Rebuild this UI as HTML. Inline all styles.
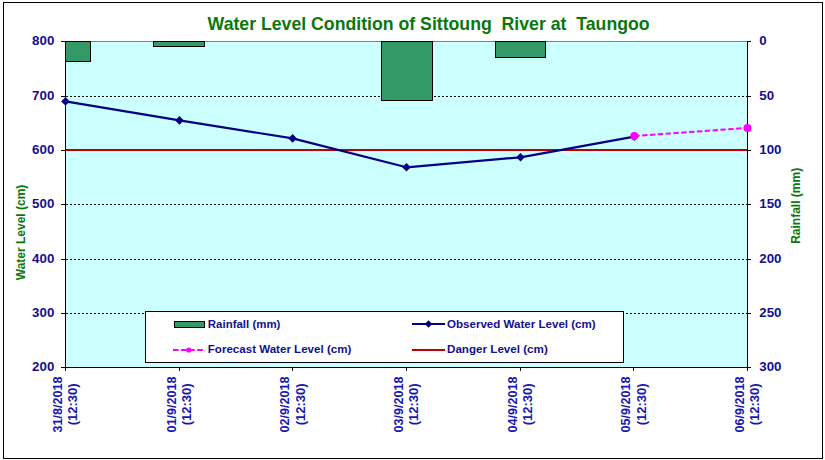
<!DOCTYPE html><html><head><meta charset="utf-8"><title>Water Level Condition of Sittoung River at Taungoo</title>
<style>html,body{margin:0;padding:0;background:#fff;width:825px;height:460px;overflow:hidden}svg{display:block}text{font-family:'Liberation Sans',Arial,sans-serif;font-weight:bold}</style></head><body>
<svg width="825" height="460" viewBox="0 0 825 460" shape-rendering="crispEdges">
<rect x="0" y="0" width="825" height="460" fill="#fff"/>
<rect x="3.5" y="2.5" width="819" height="456" fill="#fff" stroke="#000" stroke-width="1"/>
<rect x="65" y="41" width="682" height="326" fill="#ccffff"/>
<line x1="66" y1="96.5" x2="747" y2="96.5" stroke="#000" stroke-width="1" stroke-dasharray="2 2"/>
<line x1="66" y1="150.5" x2="747" y2="150.5" stroke="#000" stroke-width="1" stroke-dasharray="2 2"/>
<line x1="66" y1="204.5" x2="747" y2="204.5" stroke="#000" stroke-width="1" stroke-dasharray="2 2"/>
<line x1="66" y1="259.5" x2="747" y2="259.5" stroke="#000" stroke-width="1" stroke-dasharray="2 2"/>
<line x1="66" y1="313.5" x2="747" y2="313.5" stroke="#000" stroke-width="1" stroke-dasharray="2 2"/>
<line x1="65" y1="41.5" x2="748" y2="41.5" stroke="#808080" stroke-width="1"/>
<rect x="65.5" y="41.5" width="25" height="20" fill="#339966" stroke="#000" stroke-width="1"/>
<rect x="153.5" y="41.5" width="51" height="5" fill="#339966" stroke="#000" stroke-width="1"/>
<rect x="381.5" y="41.5" width="51" height="59" fill="#339966" stroke="#000" stroke-width="1"/>
<rect x="495.5" y="41.5" width="50" height="16" fill="#339966" stroke="#000" stroke-width="1"/>
<line x1="65" y1="150" x2="747" y2="150" stroke="#c00000" stroke-width="2"/>
<line x1="65.5" y1="41" x2="65.5" y2="368" stroke="#000" stroke-width="1"/>
<line x1="747.5" y1="41" x2="747.5" y2="368" stroke="#000" stroke-width="1"/>
<line x1="65" y1="367.5" x2="748" y2="367.5" stroke="#000" stroke-width="1"/>
<line x1="61" y1="41.5" x2="65" y2="41.5" stroke="#000" stroke-width="1"/>
<line x1="748" y1="41.5" x2="751" y2="41.5" stroke="#000" stroke-width="1"/>
<line x1="61" y1="96.5" x2="65" y2="96.5" stroke="#000" stroke-width="1"/>
<line x1="748" y1="96.5" x2="751" y2="96.5" stroke="#000" stroke-width="1"/>
<line x1="61" y1="150.5" x2="65" y2="150.5" stroke="#000" stroke-width="1"/>
<line x1="748" y1="150.5" x2="751" y2="150.5" stroke="#000" stroke-width="1"/>
<line x1="61" y1="204.5" x2="65" y2="204.5" stroke="#000" stroke-width="1"/>
<line x1="748" y1="204.5" x2="751" y2="204.5" stroke="#000" stroke-width="1"/>
<line x1="61" y1="259.5" x2="65" y2="259.5" stroke="#000" stroke-width="1"/>
<line x1="748" y1="259.5" x2="751" y2="259.5" stroke="#000" stroke-width="1"/>
<line x1="61" y1="313.5" x2="65" y2="313.5" stroke="#000" stroke-width="1"/>
<line x1="748" y1="313.5" x2="751" y2="313.5" stroke="#000" stroke-width="1"/>
<line x1="61" y1="367.5" x2="65" y2="367.5" stroke="#000" stroke-width="1"/>
<line x1="748" y1="367.5" x2="751" y2="367.5" stroke="#000" stroke-width="1"/>
<line x1="65.5" y1="368" x2="65.5" y2="371" stroke="#000" stroke-width="1"/>
<line x1="179.5" y1="368" x2="179.5" y2="371" stroke="#000" stroke-width="1"/>
<line x1="292.5" y1="368" x2="292.5" y2="371" stroke="#000" stroke-width="1"/>
<line x1="406.5" y1="368" x2="406.5" y2="371" stroke="#000" stroke-width="1"/>
<line x1="520.5" y1="368" x2="520.5" y2="371" stroke="#000" stroke-width="1"/>
<line x1="633.5" y1="368" x2="633.5" y2="371" stroke="#000" stroke-width="1"/>
<line x1="747.5" y1="368" x2="747.5" y2="371" stroke="#000" stroke-width="1"/>
<polyline points="65.5,101.4 179.5,120.4 292.6,138.4 406.5,167.3 520.5,157.3 634.3,136.6" fill="none" stroke="#000080" stroke-width="2.2" stroke-linejoin="round" shape-rendering="auto"/>
<path d="M65.5 97.10000000000001L69.8 101.4L65.5 105.7L61.2 101.4Z" fill="#000080" shape-rendering="auto"/>
<path d="M179.5 116.10000000000001L183.8 120.4L179.5 124.7L175.2 120.4Z" fill="#000080" shape-rendering="auto"/>
<path d="M292.6 134.1L296.90000000000003 138.4L292.6 142.70000000000002L288.3 138.4Z" fill="#000080" shape-rendering="auto"/>
<path d="M406.5 163.0L410.8 167.3L406.5 171.60000000000002L402.2 167.3Z" fill="#000080" shape-rendering="auto"/>
<path d="M520.5 153.0L524.8 157.3L520.5 161.60000000000002L516.2 157.3Z" fill="#000080" shape-rendering="auto"/>
<path d="M634.3 132.29999999999998L638.5999999999999 136.6L634.3 140.9L630.0 136.6Z" fill="#000080" shape-rendering="auto"/>
<line x1="634.3" y1="136" x2="747.5" y2="127.9" stroke="#ff00ff" stroke-width="2" stroke-dasharray="5.4 2.45" shape-rendering="auto"/>
<circle cx="634.3" cy="136" r="4" fill="#ff00ff" shape-rendering="auto"/>
<circle cx="747.5" cy="127.9" r="4" fill="#ff00ff" shape-rendering="auto"/>
<text transform="translate(207.6,30) scale(1,1.07)" font-size="17.2" fill="#0a780a" textLength="442" lengthAdjust="spacingAndGlyphs" xml:space="preserve">Water Level Condition of Sittoung  River at  Taungoo</text>
<text x="54.3" y="45.40" font-size="13.3" fill="#101090" text-anchor="end">800</text>
<text x="54.3" y="99.73" font-size="13.3" fill="#101090" text-anchor="end">700</text>
<text x="54.3" y="154.07" font-size="13.3" fill="#101090" text-anchor="end">600</text>
<text x="54.3" y="208.40" font-size="13.3" fill="#101090" text-anchor="end">500</text>
<text x="54.3" y="262.73" font-size="13.3" fill="#101090" text-anchor="end">400</text>
<text x="54.3" y="317.07" font-size="13.3" fill="#101090" text-anchor="end">300</text>
<text x="54.3" y="371.40" font-size="13.3" fill="#101090" text-anchor="end">200</text>
<text x="759.3" y="45.40" font-size="13.3" fill="#101090">0</text>
<text x="759.3" y="99.73" font-size="13.3" fill="#101090">50</text>
<text x="759.3" y="154.07" font-size="13.3" fill="#101090">100</text>
<text x="759.3" y="208.40" font-size="13.3" fill="#101090">150</text>
<text x="759.3" y="262.73" font-size="13.3" fill="#101090">200</text>
<text x="759.3" y="317.07" font-size="13.3" fill="#101090">250</text>
<text x="759.3" y="371.40" font-size="13.3" fill="#101090">300</text>
<text transform="translate(62.1,404.5) rotate(-90)" font-size="13.2" fill="#1616b0" text-anchor="middle" textLength="56" lengthAdjust="spacingAndGlyphs">31/8/2018</text>
<text transform="translate(77.2,404.3) rotate(-90)" font-size="13" fill="#1616b0" text-anchor="middle" textLength="42" lengthAdjust="spacingAndGlyphs">(12:30)</text>
<text transform="translate(175.8,404.5) rotate(-90)" font-size="13.2" fill="#1616b0" text-anchor="middle" textLength="56" lengthAdjust="spacingAndGlyphs">01/9/2018</text>
<text transform="translate(190.9,404.3) rotate(-90)" font-size="13" fill="#1616b0" text-anchor="middle" textLength="42" lengthAdjust="spacingAndGlyphs">(12:30)</text>
<text transform="translate(289.4,404.5) rotate(-90)" font-size="13.2" fill="#1616b0" text-anchor="middle" textLength="56" lengthAdjust="spacingAndGlyphs">02/9/2018</text>
<text transform="translate(304.5,404.3) rotate(-90)" font-size="13" fill="#1616b0" text-anchor="middle" textLength="42" lengthAdjust="spacingAndGlyphs">(12:30)</text>
<text transform="translate(403.1,404.5) rotate(-90)" font-size="13.2" fill="#1616b0" text-anchor="middle" textLength="56" lengthAdjust="spacingAndGlyphs">03/9/2018</text>
<text transform="translate(418.2,404.3) rotate(-90)" font-size="13" fill="#1616b0" text-anchor="middle" textLength="42" lengthAdjust="spacingAndGlyphs">(12:30)</text>
<text transform="translate(516.8,404.5) rotate(-90)" font-size="13.2" fill="#1616b0" text-anchor="middle" textLength="56" lengthAdjust="spacingAndGlyphs">04/9/2018</text>
<text transform="translate(531.9,404.3) rotate(-90)" font-size="13" fill="#1616b0" text-anchor="middle" textLength="42" lengthAdjust="spacingAndGlyphs">(12:30)</text>
<text transform="translate(630.4,404.5) rotate(-90)" font-size="13.2" fill="#1616b0" text-anchor="middle" textLength="56" lengthAdjust="spacingAndGlyphs">05/9/2018</text>
<text transform="translate(645.5,404.3) rotate(-90)" font-size="13" fill="#1616b0" text-anchor="middle" textLength="42" lengthAdjust="spacingAndGlyphs">(12:30)</text>
<text transform="translate(744.1,404.5) rotate(-90)" font-size="13.2" fill="#1616b0" text-anchor="middle" textLength="56" lengthAdjust="spacingAndGlyphs">06/9/2018</text>
<text transform="translate(759.2,404.3) rotate(-90)" font-size="13" fill="#1616b0" text-anchor="middle" textLength="42" lengthAdjust="spacingAndGlyphs">(12:30)</text>
<text transform="translate(24.8,280.2) rotate(-90)" font-size="12.4" textLength="95.5" lengthAdjust="spacingAndGlyphs" fill="#0a780a">Water Level (cm)</text>
<text transform="translate(799.6,243.8) rotate(-90)" font-size="12.4" textLength="76" lengthAdjust="spacingAndGlyphs" fill="#0a780a">Rainfall (mm)</text>
<rect x="145.5" y="311.5" width="478" height="51" fill="#fff" stroke="#000" stroke-width="1"/>
<rect x="174.5" y="321.5" width="30" height="6" fill="#339966" stroke="#000" stroke-width="1"/>
<text x="207.8" y="328" font-size="11.6" fill="#101090" textLength="72.6" lengthAdjust="spacingAndGlyphs">Rainfall (mm)</text>
<line x1="173" y1="350" x2="203.5" y2="350" stroke="#ff00ff" stroke-width="2" stroke-dasharray="5.6 2.5" shape-rendering="auto"/>
<circle cx="188.8" cy="350" r="2.6" fill="#ff00ff" shape-rendering="auto"/>
<text x="207.8" y="353" font-size="11.6" fill="#101090" textLength="143.5" lengthAdjust="spacingAndGlyphs">Forecast Water Level (cm)</text>
<line x1="412" y1="324" x2="445" y2="324" stroke="#000080" stroke-width="2"/>
<path d="M428.5 320.3L432.2 324L428.5 327.7L424.8 324Z" fill="#000080" shape-rendering="auto"/>
<text x="447" y="328" font-size="11.6" fill="#101090" textLength="148.7" lengthAdjust="spacingAndGlyphs">Observed Water Level (cm)</text>
<line x1="412" y1="350" x2="445" y2="350" stroke="#c00000" stroke-width="2"/>
<text x="447" y="353" font-size="11.6" fill="#101090" textLength="100.8" lengthAdjust="spacingAndGlyphs">Danger Level (cm)</text>
</svg></body></html>
